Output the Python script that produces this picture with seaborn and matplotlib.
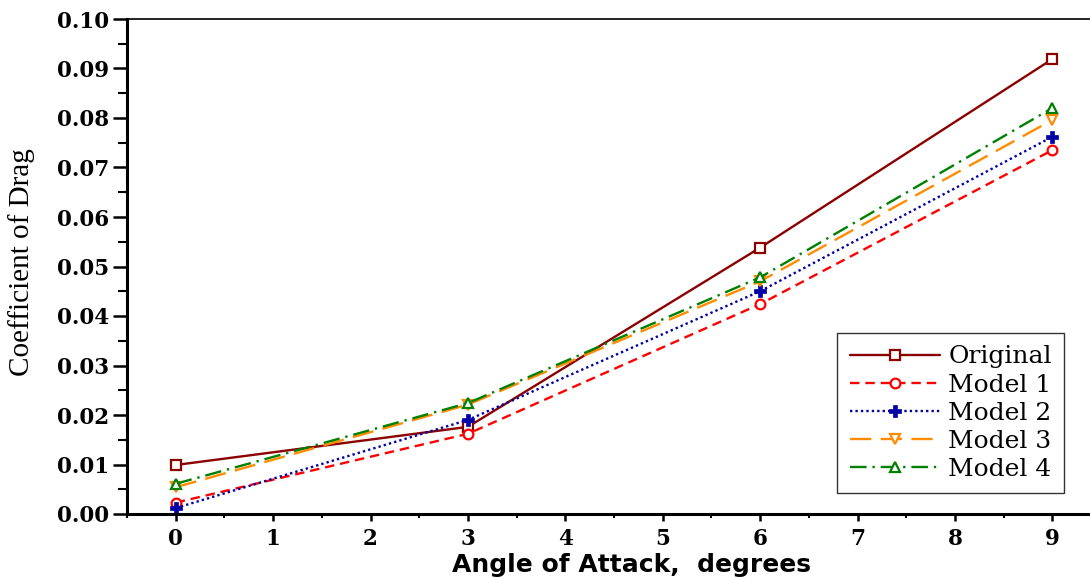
import numpy as np
import pandas as pd
import matplotlib
matplotlib.use('Agg')
import matplotlib.pyplot as plt
import seaborn as sns
from matplotlib.ticker import MultipleLocator, FormatStrFormatter

angles = [0, 3, 6, 9]
original = [0.0099, 0.0176, 0.0538, 0.0919]
model1 = [0.0023, 0.0162, 0.0424, 0.0735]
model2 = [0.0012, 0.0190, 0.0450, 0.0762]
model3 = [0.0054, 0.0221, 0.0470, 0.0796]
model4 = [0.0061, 0.0224, 0.0478, 0.0820]

names = ['Original', 'Model 1', 'Model 2', 'Model 3', 'Model 4']
series = [original, model1, model2, model3, model4]
colors = ['#8B0000', '#FF0000', '#0000A8', '#FF8C00', '#008000']
markers = ['s', 'o', 'P', 'v', '^']
dashes = ['-', (0, (4, 2.5)), (0, (1, 1.3)), (0, (9, 4)), (0, (7, 2.5, 1, 2.5))]

sns.set_style('ticks')
plt.rcParams.update({'text.color': 'black', 'axes.edgecolor': 'black',
                     'xtick.color': 'black', 'ytick.color': 'black',
                     'axes.labelcolor': 'black'})

fig = plt.figure(figsize=(10.9, 5.77), dpi=100)
ax = fig.add_axes([127/1090, 63/577, 974/1090, 495/577])

for name, vals, c, m, ls in zip(names, series, colors, markers, dashes):
    df = pd.DataFrame({'angle': angles, 'cd': vals})
    mfc = c if m == 'P' else 'white'
    sns.lineplot(data=df, x='angle', y='cd', ax=ax, color=c, marker=m,
                 linestyle=ls, linewidth=1.7, markersize=7 if m != 'P' else 9,
                 mfc=mfc, mec=c, mew=1.6 if m != 'P' else 0.5, label=name,
                 legend=False)

ax.set_xlim(-0.5, 9.5)
ax.set_ylim(0, 0.10)
ax.xaxis.set_major_locator(MultipleLocator(1))
ax.xaxis.set_minor_locator(MultipleLocator(0.5))
ax.yaxis.set_major_locator(MultipleLocator(0.01))
ax.yaxis.set_minor_locator(MultipleLocator(0.005))
ax.yaxis.set_major_formatter(FormatStrFormatter('%.2f'))

for s in ['left', 'bottom']:
    ax.spines[s].set_linewidth(2.2)
ax.spines['top'].set_linewidth(1.2)
ax.spines['right'].set_visible(False)

ax.tick_params(axis='y', which='major', direction='out', length=10, width=1.8, pad=3)
ax.tick_params(axis='y', which='minor', direction='out', length=6.5, width=1.5)
ax.tick_params(axis='x', which='major', direction='out', length=5, width=1.8, pad=5)
ax.tick_params(axis='x', which='minor', direction='out', length=3, width=1.5)
ax.tick_params(top=False, right=False, which='both')

for lab in ax.get_xticklabels() + ax.get_yticklabels():
    lab.set_fontfamily('DejaVu Serif')
    lab.set_fontweight('bold')
    lab.set_fontsize(15.5)

ax.set_xlabel('Angle of Attack,  degrees', fontfamily='DejaVu Sans',
              fontweight='bold', fontsize=18)
ax.xaxis.set_label_coords(0.518, -0.079)
ax.set_ylabel('Coefficient of Drag', fontfamily='Liberation Serif', fontsize=21)
ax.yaxis.set_label_coords(-0.094, 0.509)

leg = ax.legend(loc='upper left', bbox_to_anchor=(837/1090, (577-333)/577),
                bbox_transform=fig.transFigure, fancybox=False, frameon=True,
                edgecolor='#333333', framealpha=1, handlelength=3.6,
                handletextpad=0.35, labelspacing=0.2, borderpad=0.5,
                borderaxespad=0, prop={'family': 'DejaVu Serif', 'size': 18})
leg.get_frame().set_linewidth(1.0)

fig.savefig('out.png', dpi=100)
